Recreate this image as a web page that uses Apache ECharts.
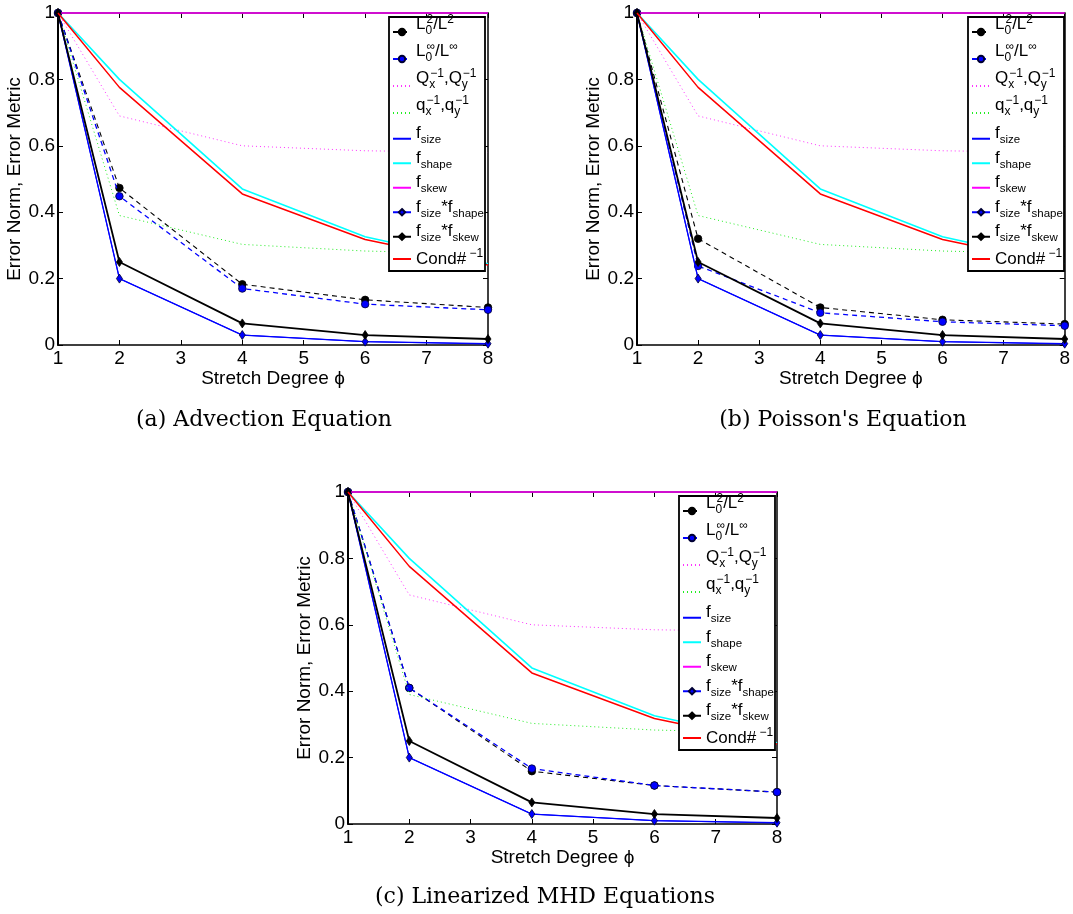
<!DOCTYPE html>
<html>
<head>
<meta charset="utf-8">
<script src="https://cdn.jsdelivr.net/npm/echarts@6/dist/echarts.min.js"></script>
<style>
html,body{margin:0;padding:0;background:#fff;}
#chart{width:1073px;height:914px;}
</style>
</head>
<body>
<div id="chart"></div>
<script>
// ---------- data ----------
const stretch = [1, 2, 4, 6, 8];
const xTickLabels = [1, 2, 3, 4, 5, 6, 7, 8];
const yTickLabels = [0, 0.2, 0.4, 0.6, 0.8, 1];

const seriesNames = ['L0^2/L^2', 'L0^inf/L^inf', 'Qx^-1,Qy^-1', 'qx^-1,qy^-1',
  'f_size', 'f_shape', 'f_skew', 'f_size*f_shape', 'f_size*f_skew', 'Cond#^-1'];

// shared metric curves (identical across panels)
const qBig = [1, 0.69, 0.60, 0.585, 0.58];
const qSmall = [1, 0.39, 0.303, 0.283, 0.275];
const fSize = [1, 0.20, 0.03, 0.01, 0.003];
const fShape = [1, 0.80, 0.47, 0.326, 0.245];
const fSkew = [1, 1, 1, 1, 1];
const fSizeShape = [1, 0.20, 0.03, 0.01, 0.004];
const fSizeSkew = [1, 0.25, 0.065, 0.03, 0.018];
const condInv = [1, 0.776, 0.455, 0.318, 0.241];

// panel-specific error norms
const l2Advection = [1, 0.473, 0.183, 0.136, 0.113];
const linfAdvection = [1, 0.448, 0.17, 0.123, 0.106];
const l2Poisson = [1, 0.32, 0.113, 0.076, 0.063];
const linfPoisson = [1, 0.238, 0.097, 0.07, 0.058];
const l2MHD = [1, 0.41, 0.159, 0.116, 0.096];
const linfMHD = [1, 0.41, 0.167, 0.116, 0.096];

const captions = ['(a) Advection Equation', "(b) Poisson's Equation", '(c) Linearized MHD Equations'];
const xTitle = 'Stretch Degree \u03d5';
const yTitle = 'Error Norm, Error Metric';

// ---------- layout ----------
const panels = [
  {left: 58, top: 13, width: 430, height: 332, l2: l2Advection, linf: linfAdvection, cap: [264, 420]},
  {left: 637, top: 13, width: 429, height: 332, l2: l2Poisson, linf: linfPoisson, cap: [843, 420]},
  {left: 348, top: 492, width: 429, height: 332, l2: l2MHD, linf: linfMHD, cap: [545, 897]}
];

const FONT = 'Liberation Sans';
function tok(size, d, H, extra) {
  const base = (H - size) / 2;
  return Object.assign({fontSize: size, lineHeight: size, fontFamily: FONT, color: '#000',
    verticalAlign: 'middle', padding: [base + d, 0, base - d, 0]}, extra || {});
}
const HA = 43, HB = 40, HC = 36;
const rich = {
  m: tok(17, -8, HA), sw: tok(12, -1, HA, {width: 1}), p: tok(12, -12.5, HA),
  m2: tok(17, -5, HB), b: tok(11.5, 1.5, HB),
  m3: tok(17, 0.5, HC), p3: tok(12, -5, HC)
};
const labelMap = {
  'L0^2/L^2': '{m|L}{sw|0}{p|2}{m|/L}{p|2}',
  'L0^inf/L^inf': '{m|L}{sw|0}{p|\u221e}{m|/L}{p|\u221e}',
  'Qx^-1,Qy^-1': '{m|Q}{sw|x}{p|\u22121}{m|,Q}{sw|y}{p|\u22121}',
  'qx^-1,qy^-1': '{m|q}{sw|x}{p|\u22121}{m|,q}{sw|y}{p|\u22121}',
  'f_size': '{m2|f}{b|size}',
  'f_shape': '{m2|f}{b|shape}',
  'f_skew': '{m2|f}{b|skew}',
  'f_size*f_shape': '{m2|f}{b|size}{m2|*f}{b|shape}',
  'f_size*f_skew': '{m2|f}{b|size}{m2|*f}{b|skew}',
  'Cond#^-1': '{m3|Cond#}{p3| \u22121}'
};
const noMarker = {'Qx^-1,Qy^-1': 1, 'qx^-1,qy^-1': 1, 'f_size': 1, 'f_shape': 1, 'f_skew': 1, 'Cond#^-1': 1};

const xAxes = [], yAxes = [], grids = [], series = [], legends = [], graphics = [];
const axisLineStyle = {color: '#000', width: 1.5};

panels.forEach((p, i) => {
  grids.push({left: p.left, top: p.top, width: p.width, height: p.height, containLabel: false});
  xAxes.push({
    type: 'value', gridIndex: i, min: 1, max: 8, interval: 1, position: 'bottom',
    axisLine: {show: true, onZero: false, lineStyle: axisLineStyle},
    axisTick: {show: true, inside: true, length: 5, lineStyle: {color: '#000'}},
    axisLabel: {color: '#000', fontSize: 19, fontFamily: FONT, margin: 4,
      formatter: v => xTickLabels.indexOf(v) >= 0 ? String(v) : ''},
    splitLine: {show: false},
    name: xTitle, nameLocation: 'middle', nameGap: 22,
    nameTextStyle: {color: '#000', fontSize: 19, fontFamily: FONT}
  });
  xAxes.push({
    type: 'value', gridIndex: i, min: 1, max: 8, interval: 1, position: 'top',
    axisLine: {show: true, onZero: false, lineStyle: axisLineStyle},
    axisTick: {show: true, inside: true, length: 5, lineStyle: {color: '#000'}},
    axisLabel: {show: false}, splitLine: {show: false}
  });
  yAxes.push({
    type: 'value', gridIndex: i, min: 0, max: 1, interval: 0.2, position: 'left',
    axisLine: {show: true, onZero: false, lineStyle: {color: '#000', width: 2}},
    axisTick: {show: true, inside: true, length: 5, lineStyle: {color: '#000'}},
    axisLabel: {color: '#000', fontSize: 19, fontFamily: FONT, margin: 3,
      formatter: v => { const t = yTickLabels.find(y => Math.abs(y - v) < 1e-9); return t === undefined ? '' : String(t); }},
    splitLine: {show: false},
    name: yTitle, nameLocation: 'middle', nameGap: 29,
    nameTextStyle: {color: '#000', fontSize: 19, fontFamily: FONT}
  });
  yAxes.push({
    type: 'value', gridIndex: i, min: 0, max: 1, interval: 0.2, position: 'right',
    axisLine: {show: true, onZero: false, lineStyle: axisLineStyle},
    axisTick: {show: true, inside: true, length: 5, lineStyle: {color: '#000'}},
    axisLabel: {show: false}, splitLine: {show: false}
  });

  const xi = i * 2, yi = i * 2;
  const values = [p.l2, p.linf, qBig, qSmall, fSize, fShape, fSkew, fSizeShape, fSizeSkew, condInv];
  const styles = [
    {color: '#000', width: 1.1, type: [5, 4], symbol: 'circle', size: 7.5, fill: '#000', border: '#000'},
    {color: '#0000ff', width: 1.3, type: [5, 4], symbol: 'circle', size: 7.5, fill: '#0000ff', border: '#000033'},
    {color: '#ff33ff', width: 1, type: [1, 3], symbol: 'none'},
    {color: '#22ee22', width: 1, type: [1, 3], symbol: 'none'},
    {color: '#0000ff', width: 1, type: 'solid', symbol: 'none'},
    {color: '#00ffff', width: 1.6, type: 'solid', symbol: 'none'},
    {color: '#ff00ff', width: 1.6, type: 'solid', symbol: 'none'},
    {color: '#0000ff', width: 1.3, type: 'solid', symbol: 'diamond', size: [6, 9], fill: '#0000ff', border: '#000033'},
    {color: '#000000', width: 1.8, type: 'solid', symbol: 'diamond', size: [6, 9], fill: '#000', border: '#000'},
    {color: '#ff0000', width: 1.5, type: 'solid', symbol: 'none'}
  ];
  seriesNames.forEach((name, k) => {
    const s = styles[k];
    series.push({
      type: 'line', name: name, xAxisIndex: xi, yAxisIndex: yi,
      data: stretch.map((x, j) => [x, values[k][j]]),
      symbol: s.symbol === 'none' ? 'circle' : s.symbol,
      showSymbol: s.symbol !== 'none',
      symbolSize: s.size || 4,
      itemStyle: {color: s.fill || s.color, borderColor: s.border || s.color, borderWidth: s.symbol === 'none' ? 0 : 0.8},
      lineStyle: {color: s.color, width: s.width, type: s.type},
      clip: false, animation: false, silent: true, z: 2 + k * 0.01
    });
  });

  const bx = p.left + 331, by = p.top + 4;
  graphics.push({type: 'rect', z: 3, shape: {x: bx, y: by, width: 96, height: 254},
    style: {fill: '#fff', stroke: '#000', lineWidth: 1.8}});
  legends.push({
    orient: 'vertical', left: p.left + 334, top: p.top + 19 - HA / 2, padding: 0,
    itemWidth: 18, itemHeight: 8, itemGap: -16, itemTextGap: 5,
    selectedMode: false, z: 4,
    data: seriesNames.map(n => noMarker[n] ? {name: n, itemStyle: {opacity: 0}} : {name: n}),
    formatter: n => labelMap[n],
    textStyle: {rich: rich, fontFamily: FONT, fontSize: 17, color: '#000'}
  });
  graphics.push({type: 'text', x: p.cap[0], y: p.cap[1], z: 5,
    style: {text: captions[i], font: '22px "DejaVu Serif"', fill: '#000', align: 'center', verticalAlign: 'middle'}});
});

const chart = echarts.init(document.getElementById('chart'), null, {renderer: 'canvas'});
chart.setOption({
  backgroundColor: '#fff',
  animation: false,
  grid: grids, xAxis: xAxes, yAxis: yAxes,
  legend: legends, series: series, graphic: graphics
});
</script>
</body>
</html>
